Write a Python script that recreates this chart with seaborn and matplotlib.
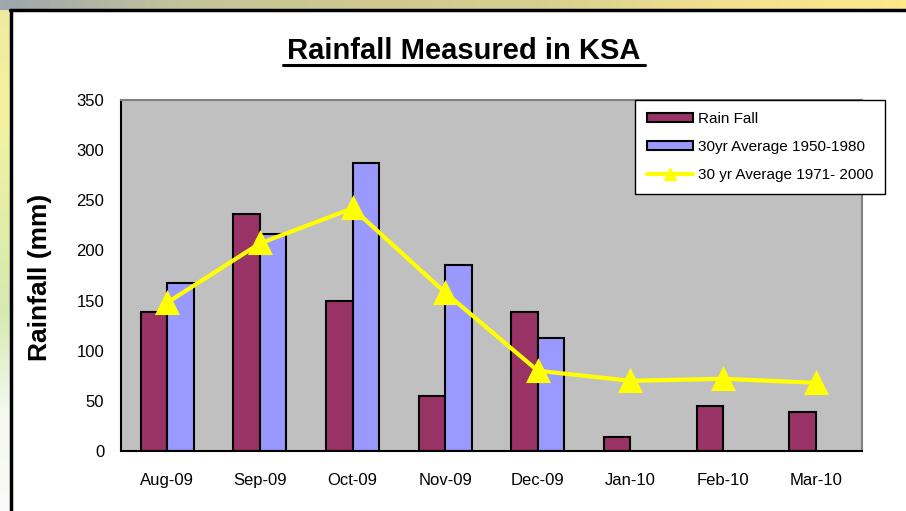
import numpy as np
import pandas as pd
import matplotlib
matplotlib.use("Agg")
import matplotlib.pyplot as plt
import seaborn as sns
from matplotlib.patches import Patch
from matplotlib.lines import Line2D
from matplotlib.colors import LinearSegmentedColormap

months = ['Aug-09', 'Sep-09', 'Oct-09', 'Nov-09', 'Dec-09', 'Jan-10', 'Feb-10', 'Mar-10']
rain_fall = [139, 236, 150, 55, 139, 14, 45, 39]
avg_1950_1980 = [168, 216, 287, 185, 113, np.nan, np.nan, np.nan]
avg_1971_2000 = [148, 207, 242, 158, 80, 70, 72, 68]

lbl_rain = 'Rain Fall'
lbl_5080 = '30yr Average 1950-1980'
lbl_7100 = '30 yr Average 1971- 2000'

c_rain = '#993366'
c_blue = '#9999FF'
c_line = '#FFFF00'

sns.set_style('white')
plt.rcParams['font.family'] = ['Liberation Sans', 'DejaVu Sans']
plt.rcParams['text.color'] = 'black'
plt.rcParams['xtick.color'] = 'black'
plt.rcParams['ytick.color'] = 'black'

df = pd.DataFrame({'month': months, lbl_rain: rain_fall, lbl_5080: avg_1950_1980})
df_long = df.melt(id_vars='month', var_name='series', value_name='mm')

fig = plt.figure(figsize=(9.06, 5.11), dpi=100)
W, H = 906, 511

# slide frame: gradient strips on top and left
top = fig.add_axes([0, 1 - 10 / H, 1, 10 / H])
cm_top = LinearSegmentedColormap.from_list('t', ['#9ea6ae', '#c4c49a', '#cec890', '#d6d08e', '#f2e090', '#fde98a'])
top.imshow(np.linspace(0, 1, 200)[None, :], aspect='auto', cmap=cm_top)
top.axis('off')
left = fig.add_axes([0, 0, 10 / W, 1 - 10 / H])
cm_left = LinearSegmentedColormap.from_list('l', ['#fafafa', '#f4f8ee', '#d6eab0', '#e4eea8', '#f4f2a0', '#eeeaa0'])
left.imshow(np.linspace(0, 1, 200)[:, None], aspect='auto', cmap=cm_left, origin='lower')
left.axis('off')
fig.add_artist(Line2D([10 / W, 1], [1 - 10.5 / H, 1 - 10.5 / H], color='black', lw=2.5))
fig.add_artist(Line2D([10.5 / W, 10.5 / W], [0, 1 - 10 / H], color='black', lw=2.5))

ax = fig.add_axes([121 / W, 1 - 451 / H, (862 - 121) / W, (451 - 100) / H])
ax.set_facecolor('#C0C0C0')

sns.barplot(data=df_long, x='month', y='mm', hue='series',
            palette=[c_rain, c_blue], width=0.572, edgecolor='black',
            linewidth=1.5, saturation=1, ax=ax, legend=False)
sns.pointplot(x=months, y=avg_1971_2000, color=c_line, markers='^',
              markersize=14, linewidth=3, errorbar=None, ax=ax)

ax.set_xlim(-0.5, 7.5)
ax.set_ylim(0, 350)
ax.set_yticks(range(0, 351, 50))
ax.set_xlabel('')
ax.set_ylabel('')
ax.set_xticks(np.arange(-0.5, 8, 1), minor=True)
ax.tick_params(axis='x', which='major', length=0, pad=16, labelsize=12)
ax.tick_params(axis='x', which='minor', length=6, direction='out', width=1, color='black')
ax.tick_params(axis='y', length=8, direction='inout', width=1, color='black', pad=8, labelsize=12)
for s in ['left', 'bottom']:
    ax.spines[s].set_color('black')
    ax.spines[s].set_linewidth(1.5)
for s in ['top', 'right']:
    ax.spines[s].set_color('#808080')
    ax.spines[s].set_linewidth(1.5)

fig.text(464 / W, 1 - 51 / H, 'Rainfall Measured in KSA', ha='center', va='center',
         fontsize=21, fontweight='bold')
fig.add_artist(Line2D([283 / W, 645 / W], [1 - 65.5 / H, 1 - 65.5 / H], color='black', lw=2.2))
fig.text(40 / W, 1 - 277 / H, 'Rainfall (mm)', rotation=90, ha='center', va='center',
         fontsize=19, fontweight='bold')

handles = [Patch(facecolor=c_rain, edgecolor='black', linewidth=1.5),
           Patch(facecolor=c_blue, edgecolor='black', linewidth=1.5),
           Line2D([], [], color=c_line, lw=3, marker='^', markersize=8)]
leg = fig.legend(handles, [lbl_rain, lbl_5080, lbl_7100], loc='upper left',
                 bbox_to_anchor=(635 / W, 1 - 100 / H), borderaxespad=0, fontsize=11,
                 frameon=True, fancybox=False, edgecolor='black', framealpha=1,
                 handlelength=3, handleheight=0.55, labelspacing=0.9, borderpad=0.8,
                 handletextpad=0.3)
leg.get_frame().set_linewidth(1)

fig.savefig('out.png', dpi=100)
